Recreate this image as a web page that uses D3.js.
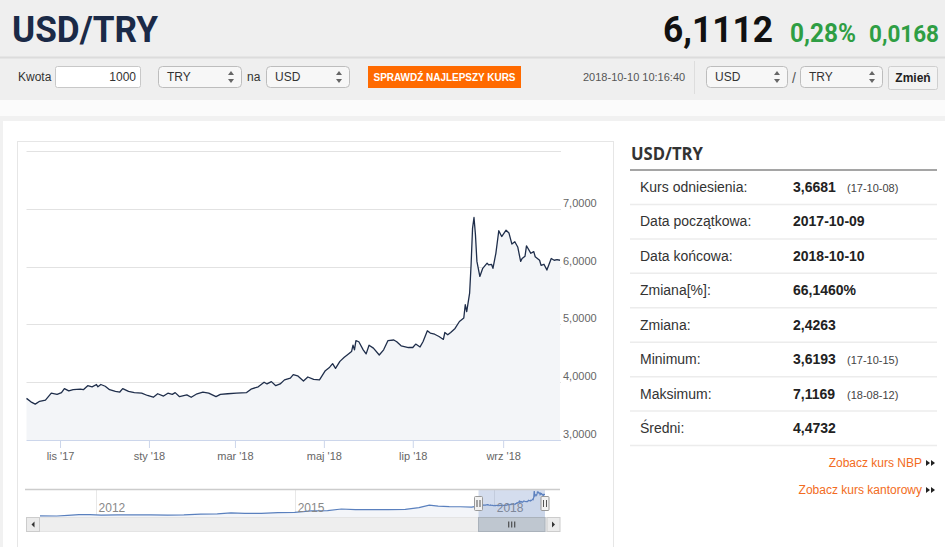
<!DOCTYPE html>
<html>
<head>
<meta charset="utf-8">
<script src="https://cdn.jsdelivr.net/npm/d3@7"></script>
<style>
  html, body { margin: 0; padding: 0; background: #fff; }
  svg { display: block; font-family: "Liberation Sans", Arial, sans-serif; }
</style>
</head>
<body>
<div id="viz"></div>
<script>
const width = 945;
const height = 547;

// daily-ish USD/TRY readings for the last year (main chart)
const dates = [
  '2017-10-09','2017-10-12','2017-10-15','2017-10-18','2017-10-22','2017-10-26','2017-10-30',
  '2017-11-02','2017-11-04','2017-11-07','2017-11-10','2017-11-15','2017-11-17','2017-11-20',
  '2017-11-23','2017-11-26','2017-11-27','2017-11-29','2017-12-02','2017-12-05','2017-12-09',
  '2017-12-12','2017-12-14','2017-12-18','2017-12-22','2017-12-27','2017-12-31','2018-01-04',
  '2018-01-07','2018-01-11','2018-01-14','2018-01-17','2018-01-19','2018-01-22','2018-01-27',
  '2018-01-30','2018-02-03','2018-02-07','2018-02-11','2018-02-16','2018-02-19','2018-02-24',
  '2018-03-02','2018-03-09','2018-03-12','2018-03-17','2018-03-21','2018-03-23','2018-03-26',
  '2018-03-29','2018-04-01','2018-04-04','2018-04-08','2018-04-10','2018-04-13','2018-04-17',
  '2018-04-20','2018-04-24','2018-04-28','2018-05-02','2018-05-05','2018-05-07','2018-05-09',
  '2018-05-12','2018-05-15','2018-05-17','2018-05-20','2018-05-21','2018-05-22','2018-05-23',
  '2018-05-25','2018-05-28','2018-05-30','2018-06-01','2018-06-04','2018-06-08','2018-06-11',
  '2018-06-14','2018-06-18','2018-06-20','2018-06-23','2018-06-28','2018-07-01','2018-07-03',
  '2018-07-06','2018-07-08','2018-07-11','2018-07-13','2018-07-16','2018-07-19','2018-07-22',
  '2018-07-23','2018-07-25','2018-07-27','2018-07-30','2018-08-02','2018-08-05','2018-08-06',
  '2018-08-07','2018-08-09','2018-08-10','2018-08-11','2018-08-12','2018-08-13','2018-08-14',
  '2018-08-16','2018-08-18','2018-08-19','2018-08-21','2018-08-22','2018-08-24','2018-08-25',
  '2018-08-27','2018-08-29','2018-08-31','2018-09-03','2018-09-05','2018-09-07','2018-09-09',
  '2018-09-11','2018-09-13','2018-09-14','2018-09-16','2018-09-17','2018-09-20','2018-09-22',
  '2018-09-23','2018-09-26','2018-09-27','2018-09-29','2018-10-01','2018-10-04','2018-10-06',
  '2018-10-08','2018-10-10'
];
const rates = [
  3.72,3.66,3.62,3.67,3.69,3.81,3.79,
  3.82,3.89,3.85,3.87,3.88,3.87,3.94,
  3.92,3.96,3.92,3.96,3.93,3.87,3.84,
  3.83,3.89,3.84,3.82,3.81,3.77,3.74,
  3.80,3.76,3.81,3.79,3.82,3.75,3.78,
  3.74,3.80,3.83,3.81,3.75,3.79,3.80,
  3.81,3.82,3.88,3.92,4.00,3.97,4.01,
  3.94,3.97,4.04,4.07,4.13,4.11,4.02,
  4.09,4.05,4.04,4.20,4.26,4.32,4.24,
  4.36,4.43,4.47,4.53,4.64,4.56,4.72,
  4.70,4.56,4.49,4.64,4.59,4.47,4.56,
  4.72,4.73,4.70,4.63,4.60,4.60,4.66,
  4.61,4.70,4.89,4.85,4.83,4.79,4.74,
  4.86,4.82,4.86,4.93,5.05,5.11,5.34,
  5.22,5.54,6.03,6.66,6.85,6.55,6.09,
  5.83,5.97,6.00,6.06,6.03,6.04,5.97,
  6.23,6.62,6.52,6.63,6.58,6.39,6.43,
  6.34,6.09,6.14,6.18,6.36,6.23,6.26,
  6.17,6.11,6.02,6.04,5.94,6.14,6.11,
  6.12,6.11
];

// older history shown only in the navigator
const historyDates = [
  '2011-03-01','2011-06-01','2011-08-01','2011-10-01','2011-12-01','2012-02-01','2012-05-01',
  '2012-08-01','2012-11-01','2013-02-01','2013-05-01','2013-08-01','2013-11-01','2014-01-15',
  '2014-04-01','2014-07-01','2014-10-01','2015-01-01','2015-04-01','2015-07-01','2015-09-15',
  '2015-12-01','2016-03-01','2016-06-01','2016-09-01','2016-11-15','2017-01-11','2017-03-01',
  '2017-05-01','2017-07-01','2017-09-01'
];
const historyRates = [
  1.58,1.57,1.72,1.85,1.88,1.76,1.80,
  1.80,1.79,1.77,1.82,1.95,2.01,2.25,
  2.13,2.12,2.27,2.33,2.65,2.70,3.05,
  2.90,2.92,2.90,2.97,3.35,3.85,3.65,
  3.55,3.52,3.45
];

const yTicks = [3, 4, 5, 6, 7, 8];
const navYears = [2012, 2015, 2018];
const monthNames = ['sty','lut','mar','kwi','maj','cze','lip','sie','wrz','paź','lis','gru'];

const statLabels = ['Kurs odniesienia:','Data początkowa:','Data końcowa:','Zmiana[%]:','Zmiana:','Minimum:','Maksimum:','Średni:'];
const statValues = ['3,6681','2017-10-09','2018-10-10','66,1460%','2,4263','3,6193','7,1169','4,4732'];
const statDates = ['(17-10-08)','','','','','(17-10-15)','(18-08-12)',''];

const parse = d3.timeParse('%Y-%m-%d');
const series = dates.map((d, i) => ({ date: parse(d), value: rates[i] }));
const navSeries = historyDates.map((d, i) => ({ date: parse(d), value: historyRates[i] })).concat(series);

const pl = d3.formatLocale({ decimal: ',', thousands: ' ', grouping: [3], currency: ['', ''] });
const fmt4 = pl.format('.4f');

const svg = d3.select('#viz').append('svg')
  .attr('width', width)
  .attr('height', height);

// ---------- page header ----------
svg.append('rect').attr('width', width).attr('height', height).attr('fill', '#f1f1f1');
svg.append('rect').attr('width', width).attr('height', 100).attr('fill', '#efefef');
svg.append('rect').attr('y', 100).attr('width', width).attr('height', 16).attr('fill', '#fbfbfb');
svg.append('rect').attr('x', 3).attr('y', 121).attr('width', width - 3).attr('height', height - 121).attr('fill', '#fff');

svg.append('text').attr('x', 12).attr('y', 42)
  .attr('font-family', 'Roboto, sans-serif').attr('font-weight', 700).attr('font-size', 37)
  .attr('fill', '#1b2a47').attr('textLength', 146).attr('lengthAdjust', 'spacingAndGlyphs')
  .text('USD/TRY');

svg.append('text').attr('x', 663).attr('y', 42)
  .attr('font-family', 'Roboto, sans-serif').attr('font-weight', 700).attr('font-size', 37)
  .attr('fill', '#111').attr('textLength', 110).attr('lengthAdjust', 'spacingAndGlyphs')
  .text('6,1112');
svg.append('text').attr('x', 790).attr('y', 42)
  .attr('font-family', 'Roboto, sans-serif').attr('font-weight', 700).attr('font-size', 25)
  .attr('fill', '#2f9e44').attr('textLength', 66).attr('lengthAdjust', 'spacingAndGlyphs')
  .text('0,28%');
svg.append('text').attr('x', 869).attr('y', 42)
  .attr('font-family', 'Roboto, sans-serif').attr('font-weight', 700).attr('font-size', 24)
  .attr('fill', '#2f9e44').attr('textLength', 70).attr('lengthAdjust', 'spacingAndGlyphs')
  .text('0,0168');

svg.append('line').attr('x1', 0).attr('x2', width).attr('y1', 57.5).attr('y2', 57.5)
  .attr('stroke', '#dcdcdc').attr('stroke-width', 2);

// controls row
const ctrl = svg.append('g').attr('font-size', 12).attr('fill', '#333');
ctrl.append('text').attr('x', 18).attr('y', 81).text('Kwota');
ctrl.append('rect').attr('x', 55.5).attr('y', 66.5).attr('width', 85).attr('height', 21).attr('rx', 2)
  .attr('fill', '#fff').attr('stroke', '#c8c8c8');
ctrl.append('text').attr('x', 136).attr('y', 81).attr('text-anchor', 'end').text('1000');

const drawSelect = (x, w, label) => {
  const g = ctrl.append('g');
  g.append('rect').attr('x', x + 0.5).attr('y', 66.5).attr('width', w).attr('height', 21).attr('rx', 4)
    .attr('fill', '#f7f7f7').attr('stroke', '#bdbdbd');
  g.append('text').attr('x', x + 9).attr('y', 81).text(label);
  const ax = x + w - 10;
  g.append('path').attr('d', `M${ax - 3},75 L${ax + 3},75 L${ax},71 Z M${ax - 3},79 L${ax + 3},79 L${ax},83 Z`)
    .attr('fill', '#666');
};
drawSelect(158, 83, 'TRY');
ctrl.append('text').attr('x', 247).attr('y', 81).text('na');
drawSelect(266, 83, 'USD');

ctrl.append('rect').attr('x', 368).attr('y', 66).attr('width', 153).attr('height', 22).attr('fill', '#ff6a00');
ctrl.append('text').attr('x', 444.5).attr('y', 80.5).attr('text-anchor', 'middle')
  .attr('font-size', 10).attr('font-weight', 700).attr('fill', '#fff')
  .attr('textLength', 142).attr('lengthAdjust', 'spacingAndGlyphs')
  .text('SPRAWDŹ NAJLEPSZY KURS');

ctrl.append('text').attr('x', 583).attr('y', 81).attr('font-size', 11).attr('fill', '#555')
  .text('2018-10-10 10:16:40');
ctrl.append('line').attr('x1', 694.5).attr('x2', 694.5).attr('y1', 61).attr('y2', 94).attr('stroke', '#dddddd');

drawSelect(706, 81, 'USD');
ctrl.append('text').attr('x', 792).attr('y', 83).attr('font-size', 14).attr('fill', '#555').text('/');
drawSelect(800, 82, 'TRY');
ctrl.append('rect').attr('x', 888.5).attr('y', 66.5).attr('width', 49).attr('height', 23).attr('rx', 2)
  .attr('fill', '#f3f3f3').attr('stroke', '#cfcfcf');
ctrl.append('text').attr('x', 913).attr('y', 82).attr('text-anchor', 'middle')
  .attr('font-weight', 700).attr('fill', '#222').text('Zmień');

// ---------- chart panel ----------
svg.append('rect').attr('x', 17.5).attr('y', 141.5).attr('width', 596).attr('height', 410)
  .attr('fill', '#fff').attr('stroke', '#e6e6e6');

const plot = { left: 26.5, right: 560, top: 151, bottom: 440 };

const x = d3.scaleTime()
  .domain(d3.extent(series, d => d.date))
  .range([plot.left, plot.right]);
const y = d3.scaleLinear()
  .domain([3, 8])
  .range([plot.bottom, plot.top]);

// horizontal grid + right labels
svg.append('g').selectAll('line')
  .data(yTicks.filter(t => t > 3))
  .join('line')
  .attr('x1', plot.left).attr('x2', 561)
  .attr('y1', d => Math.round(y(d)) + 0.5).attr('y2', d => Math.round(y(d)) + 0.5)
  .attr('stroke', '#e2e2e2');

svg.append('g').selectAll('text')
  .data(yTicks.filter(t => t < 8))
  .join('text')
  .attr('x', 563).attr('y', d => y(d) - 2)
  .attr('font-size', 11).attr('fill', '#666')
  .text(d => fmt4(d));

// area + line
const area = d3.area()
  .x(d => x(d.date))
  .y0(plot.bottom)
  .y1(d => y(d.value));
const line = d3.line()
  .x(d => x(d.date))
  .y(d => y(d.value));

svg.append('path').attr('d', area(series)).attr('fill', '#f3f5f8');
svg.append('path').attr('d', line(series))
  .attr('fill', 'none').attr('stroke', '#1f2e4b').attr('stroke-width', 1.3)
  .attr('stroke-linejoin', 'round');

// x axis
const xAxis = d3.axisBottom(x)
  .ticks(d3.timeMonth.every(2))
  .tickSize(8)
  .tickPadding(4)
  .tickFormat(d => `${monthNames[d.getMonth()]} '${d3.timeFormat('%y')(d)}`);
const gx = svg.append('g')
  .attr('transform', `translate(0,${plot.bottom})`)
  .call(xAxis);
gx.select('.domain').attr('stroke', '#ccd6eb').attr('d', `M${plot.left},0.5H561`);
gx.selectAll('.tick line').attr('stroke', '#ccd6eb');
gx.selectAll('.tick text').attr('font-family', '"Liberation Sans", Arial, sans-serif')
  .attr('font-size', 11).attr('fill', '#666');

// ---------- navigator ----------
const nav = { left: 25, right: 560, top: 489, bottom: 517 };
const nx = d3.scaleTime()
  .domain(d3.extent(navSeries, d => d.date))
  .range([40, 545]);
const ny = d3.scaleLinear()
  .domain(d3.extent(navSeries, d => d.value))
  .range([516, 491]);

const navG = svg.append('g');
navG.selectAll('line.year')
  .data(navYears)
  .join('line')
  .attr('class', 'year')
  .attr('x1', d => Math.round(nx(new Date(d, 0, 1))) + 0.5)
  .attr('x2', d => Math.round(nx(new Date(d, 0, 1))) + 0.5)
  .attr('y1', nav.top).attr('y2', nav.bottom)
  .attr('stroke', '#e8e8e8');

navG.append('path')
  .attr('d', d3.area().x(d => nx(d.date)).y0(nav.bottom).y1(d => ny(d.value))(navSeries))
  .attr('fill', '#f3f5f9');
navG.append('path')
  .attr('d', d3.line().x(d => nx(d.date)).y(d => ny(d.value))(navSeries))
  .attr('fill', 'none').attr('stroke', '#5a80be').attr('stroke-width', 1.2);

navG.selectAll('text.year')
  .data(navYears)
  .join('text')
  .attr('class', 'year')
  .attr('x', d => nx(new Date(d, 0, 1)) + 3)
  .attr('y', 512)
  .attr('font-size', 12).attr('fill', '#888')
  .text(d => d);

const selX0 = nx(series[0].date);
const selX1 = nx(series[series.length - 1].date);

navG.append('rect').attr('x', selX0).attr('y', nav.top).attr('width', selX1 - selX0).attr('height', nav.bottom - nav.top)
  .attr('fill', 'rgba(102,133,194,0.28)');
navG.append('line').attr('x1', nav.left).attr('x2', nav.right).attr('y1', nav.top + 0.5).attr('y2', nav.top + 0.5)
  .attr('stroke', '#cccccc').attr('stroke-width', 1.5);

// scrollbar
navG.append('rect').attr('x', 26.5).attr('y', 517.5).attr('width', 533).attr('height', 14)
  .attr('fill', '#eeeeee').attr('stroke', '#e4e4e4');
navG.append('rect').attr('x', selX0).attr('y', 517.5).attr('width', selX1 - selX0).attr('height', 14)
  .attr('fill', '#bfc7d0').attr('stroke', '#aab2bb');
[-3, 0, 3].forEach(o => {
  const cx = (selX0 + selX1) / 2 + o;
  navG.append('line').attr('x1', cx).attr('x2', cx).attr('y1', 521.5).attr('y2', 527.5).attr('stroke', '#333');
});
[[26.5, 'L'], [547, 'R']].forEach(([bx, side]) => {
  navG.append('rect').attr('x', bx).attr('y', 517.5).attr('width', 13).attr('height', 14)
    .attr('fill', '#ebebeb').attr('stroke', '#cccccc');
  const cx = bx + 6.5;
  navG.append('path')
    .attr('d', side === 'L' ? `M${cx + 1.5},521.5 L${cx - 1.5},524.5 L${cx + 1.5},527.5 Z` : `M${cx - 1.5},521.5 L${cx + 1.5},524.5 L${cx - 1.5},527.5 Z`)
    .attr('fill', '#333');
});

// handles
[selX0, selX1].forEach(hx => {
  navG.append('rect').attr('x', hx - 4).attr('y', 496.5).attr('width', 8).attr('height', 14).attr('rx', 1)
    .attr('fill', '#f2f2f2').attr('stroke', '#999');
  [-1.5, 1.5].forEach(o => {
    navG.append('line').attr('x1', hx + o).attr('x2', hx + o).attr('y1', 500).attr('y2', 507).attr('stroke', '#555');
  });
});

// ---------- right info panel ----------
const info = svg.append('g');
info.append('text').attr('x', 631).attr('y', 160)
  .attr('font-family', '"Open Sans", sans-serif').attr('font-weight', 700).attr('font-size', 17)
  .attr('fill', '#333').attr('textLength', 72).attr('lengthAdjust', 'spacingAndGlyphs')
  .text('USD/TRY');
info.append('line').attr('x1', 630).attr('x2', 937).attr('y1', 170).attr('y2', 170)
  .attr('stroke', '#a5a5a5').attr('stroke-width', 2);

const rowY = d3.scaleLinear().domain([0, 7]).range([187, 428]);
const rows = info.selectAll('g.row')
  .data(statLabels)
  .join('g')
  .attr('class', 'row')
  .attr('transform', (d, i) => `translate(0,${rowY(i)})`);
rows.append('line').attr('x1', 630).attr('x2', 937).attr('y1', 17.5).attr('y2', 17.5)
  .attr('stroke', '#ececec').attr('stroke-width', 1.5);
rows.append('text').attr('x', 640).attr('y', 5)
  .attr('font-size', 14).attr('fill', '#333')
  .text(d => d);
rows.append('text').attr('x', 793).attr('y', 5)
  .attr('font-size', 14).attr('font-weight', 700).attr('fill', '#222')
  .text((d, i) => statValues[i]);
rows.append('text').attr('x', 847).attr('y', 5)
  .attr('font-size', 11).attr('fill', '#444')
  .text((d, i) => statDates[i]);

const links = ['Zobacz kurs NBP', 'Zobacz kurs kantorowy'];
links.forEach((t, i) => {
  const ly = 467 + i * 27;
  info.append('text').attr('x', 922).attr('y', ly).attr('text-anchor', 'end')
    .attr('font-size', 12).attr('fill', '#f26b21').text(t);
  [926, 931].forEach(ax => {
    info.append('path').attr('d', `M${ax},${ly - 7} L${ax + 4},${ly - 4} L${ax},${ly - 1} Z`).attr('fill', '#222');
  });
});
</script>
</body>
</html>
